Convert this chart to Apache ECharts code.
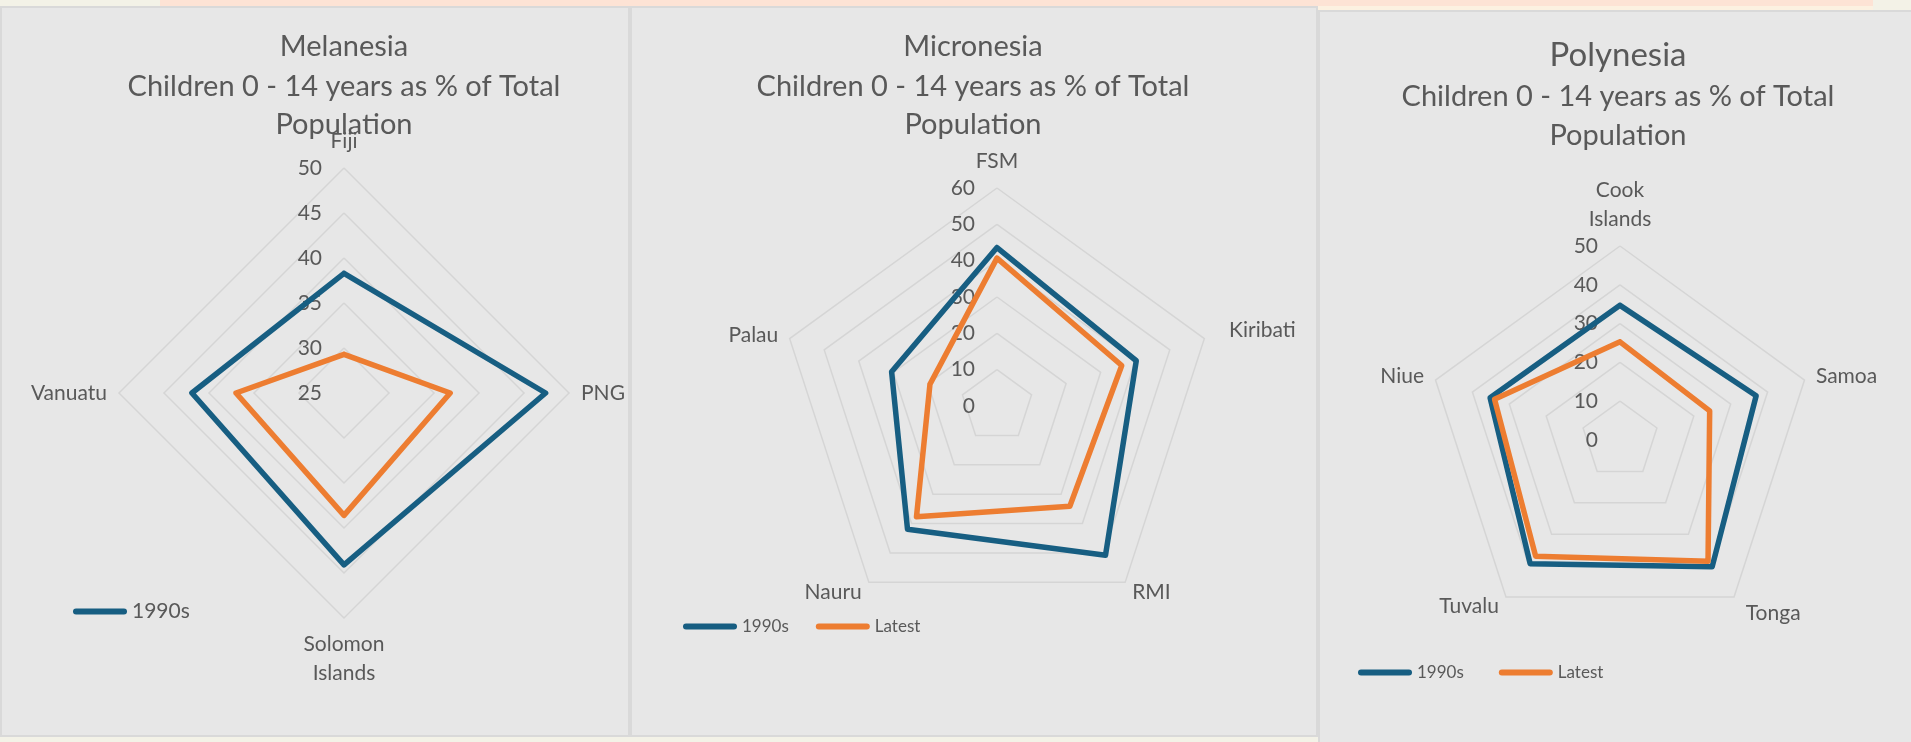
<!DOCTYPE html>
<html>
<head>
<meta charset="utf-8">
<script src="https://cdn.jsdelivr.net/npm/echarts@6/dist/echarts.min.js"></script>
<style>
  html, body { margin: 0; padding: 0; width: 1911px; height: 742px; overflow: hidden; background: #f3f2e7; }
  .strip { position: absolute; }
  .panel { position: absolute; box-sizing: border-box; background: #e7e7e7; border: 2px solid #d9d9d9; }
  .chart { position: absolute; }
</style>
</head>
<body>
<div class="strip" style="left:160px;top:0;width:1713px;height:6px;background:#fde3d5"></div>
<div class="strip" style="left:1318px;top:6px;width:555px;height:4px;background:#fcf1e1"></div>

<div class="panel" style="left:0;top:6px;width:630px;height:731px"></div>
<div class="panel" style="left:630px;top:6px;width:688px;height:731px"></div>
<div class="panel" style="left:1318px;top:10px;width:600px;height:740px"></div>

<div class="chart" id="melanesia" style="left:0;top:6px;width:630px;height:731px"></div>
<div class="chart" id="micronesia" style="left:630px;top:6px;width:688px;height:731px"></div>
<div class="chart" id="polynesia" style="left:1318px;top:10px;width:600px;height:740px"></div>

<script>
// ---- data: children aged 0-14 as % of total population ----
const SUBTITLE = 'Children 0 - 14 years as % of Total\nPopulation';
const SERIES_NAMES = ['1990s', 'Latest'];

const melanesiaCountries = ['Fiji', 'PNG', 'Solomon Islands', 'Vanuatu'];
const melanesia1990s = [38.3, 47.4, 44.1, 41.9];
const melanesiaLatest = [29.3, 36.8, 38.6, 37.0];
const melanesiaTicks = [25, 30, 35, 40, 45, 50];

const micronesiaCountries = ['FSM', 'Kiribati', 'RMI', 'Nauru', 'Palau'];
const micronesia1990s = [43.6, 40.3, 50.8, 41.9, 30.5];
const micronesiaLatest = [40.7, 36.1, 34.1, 37.7, 19.4];
const micronesiaTicks = [0, 10, 20, 30, 40, 50, 60];

const polynesiaCountries = ['Cook Islands', 'Samoa', 'Tonga', 'Tuvalu', 'Niue'];
const polynesia1990s = [34.7, 36.9, 40.4, 39.4, 35.2];
const polynesiaLatest = [25.3, 24.3, 38.6, 37.0, 34.0];
const polynesiaTicks = [0, 10, 20, 30, 40, 50];

// ---- styling ----
const BLUE = '#175e82';
const ORANGE = '#ed7d31';
const TEXT = '#595959';
const GRID = '#d5d5d5';
const FONT = 'Lato, "Open Sans", sans-serif';
const CAPSULE = 'path://M3,0 L51,0 A3,3 0 0 1 51,6 L3,6 A3,3 0 0 1 3,0 Z';
const NAME_GAP = 12;

// ECharts lays radar indicators out counter-clockwise; the charts read clockwise.
function clockwise(arr) {
  return [arr[0]].concat(arr.slice(1).reverse());
}

function buildRadar(elId, region, countries, v1990, vLatest, ticks, lay) {
  const chart = echarts.init(document.getElementById(elId), null, { renderer: 'canvas' });
  const min = ticks[0];
  const max = ticks[ticks.length - 1];
  const colors = [BLUE, ORANGE];
  const values = [v1990, vLatest];
  const gaps = lay.nameGaps || {};

  chart.setOption({
    animation: false,
    graphic: [
      {
        type: 'text', x: lay.titleX, y: lay.headY, silent: true,
        style: { text: region, fontSize: lay.headSize, fontFamily: FONT, fill: TEXT,
                 align: 'center', verticalAlign: 'middle' }
      },
      {
        type: 'text', x: lay.titleX, y: lay.subY, silent: true,
        style: { text: SUBTITLE, fontSize: lay.subSize, lineHeight: lay.subLine, fontFamily: FONT,
                 fill: TEXT, align: 'center', verticalAlign: 'middle' }
      }
    ],
    legend: {
      data: lay.legendItems,
      left: lay.legendLeft,
      top: lay.legendTop,
      padding: 0,
      itemWidth: 54,
      itemHeight: 6,
      itemGap: lay.legendGap,
      icon: CAPSULE,
      selectedMode: false,
      textStyle: { color: TEXT, fontSize: lay.legendSize, fontFamily: FONT }
    },
    radar: {
      center: lay.center,
      radius: lay.radius,
      startAngle: 90,
      shape: 'polygon',
      splitNumber: ticks.length - 1,
      nameGap: NAME_GAP,
      indicator: clockwise(countries).map((name, i) => ({
        name: name, min: min, max: max,
        nameGap: gaps[name] != null ? gaps[name] : NAME_GAP,
        axisLabel: { show: i === 0 }
      })),
      axisName: {
        color: TEXT, fontSize: 21, fontFamily: FONT, lineHeight: 29,
        formatter: (n) => n.replace(' ', '\n')
      },
      axisLine: { show: false },
      axisTick: { show: false },
      splitArea: { show: false },
      splitLine: { lineStyle: { color: GRID, width: 1.5 } },
      axisLabel: { show: false, color: TEXT, fontSize: 21, fontFamily: FONT, margin: 22 }
    },
    series: [{
      type: 'radar',
      symbol: 'none',
      silent: true,
      data: SERIES_NAMES.map((name, k) => ({
        name: name,
        value: clockwise(values[k]),
        itemStyle: { color: colors[k] },
        lineStyle: { color: colors[k], width: 5.5, join: 'round', cap: 'round' }
      }))
    }]
  });
  return chart;
}

buildRadar('melanesia', 'Melanesia', melanesiaCountries, melanesia1990s, melanesiaLatest, melanesiaTicks, {
  center: [344, 387], radius: 225,
  titleX: 344, headY: 41, headSize: 29, subY: 100, subSize: 29, subLine: 38,
  legendItems: ['1990s'], legendLeft: 73, legendTop: 595, legendGap: 34, legendSize: 21
});

buildRadar('micronesia', 'Micronesia', micronesiaCountries, micronesia1990s, micronesiaLatest, micronesiaTicks, {
  center: [367, 400], radius: 218,
  titleX: 343, headY: 41, headSize: 29, subY: 100, subSize: 29, subLine: 38,
  nameGaps: { 'Kiribati': 26 },
  legendItems: SERIES_NAMES, legendLeft: 53, legendTop: 612, legendGap: 27, legendSize: 17
});

buildRadar('polynesia', 'Polynesia', polynesiaCountries, polynesia1990s, polynesiaLatest, polynesiaTicks, {
  center: [302, 430], radius: 194,
  titleX: 300, headY: 45, headSize: 33, subY: 106.5, subSize: 29, subLine: 39,
  nameGaps: { 'Tonga': 20 },
  legendItems: SERIES_NAMES, legendLeft: 40, legendTop: 654, legendGap: 35, legendSize: 17
});
</script>
</body>
</html>
